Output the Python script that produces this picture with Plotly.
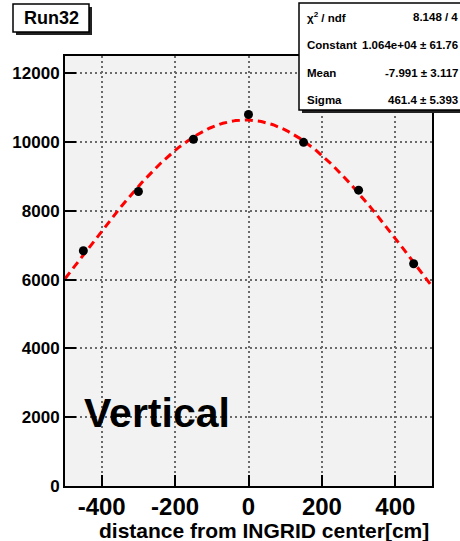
import numpy as np
import plotly.graph_objects as go

# ---- data ----
x_pos = [-450, -300, -150, 0, 150, 300, 450]
counts = [6840, 8560, 10080, 10800, 9990, 8600, 6460]

# fit parameters (from stats box)
fit_const = 1.064e4
fit_mean = -7.991
fit_sigma = 461.4

x_ticks = [-400, -200, 0, 200, 400]
x_ticklabels = ["-400", "-200", "0", "200", "400"]
y_ticks = [0, 2000, 4000, 6000, 8000, 10000, 12000]
y_ticklabels = ["0", "2000", "4000", "6000", "8000", "10000", "12000"]

stat_names = ["χ<sup>2</sup> / ndf", "Constant", "Mean", "Sigma"]
stat_values = ["8.148 / 4", "1.064e+04 ± 61.76", "-7.991 ± 3.117", "461.4 ± 5.393"]

# ---- layout geometry ----
W, H = 460, 541
L, R, T, B = 65, 28, 56, 55
PW, PH = W - L - R, H - T - B

def px(x):
    return (x - L) / PW

def py(y):
    return (H - B - y) / PH

fx = np.linspace(-500, 500, 201)
fy = fit_const * np.exp(-0.5 * ((fx - fit_mean) / fit_sigma) ** 2)

FONT = "Liberation Sans"

fig = go.Figure()
fig.add_trace(go.Scatter(x=fx, y=fy, mode="lines",
                         line=dict(color="#ff0000", width=3, dash="8px,5px"),
                         hoverinfo="skip", showlegend=False))
fig.add_trace(go.Scatter(x=x_pos, y=counts, mode="markers",
                         marker=dict(color="black", size=9),
                         showlegend=False))

axis_common = dict(showline=True, linecolor="black", linewidth=2, mirror=True,
                   showgrid=True, gridcolor="#6a6a6a", gridwidth=1.5, griddash="2px,3px",
                   ticks="inside", ticklen=11, tickwidth=1.5, tickcolor="black",
                   zeroline=False)

fig.update_xaxes(range=[-500, 500], tickvals=x_ticks, ticktext=x_ticklabels,
                 tickfont=dict(family=FONT, size=24, color="black", weight="bold"),
                 ticklabelstandoff=-2,
                 **axis_common)
fig.update_yaxes(range=[0, 12500], tickvals=y_ticks, ticktext=y_ticklabels,
                 tickfont=dict(family=FONT, size=17, color="black", weight="bold"),
                 **axis_common)

shapes = []
# Run32 box with shadow
shapes.append(dict(type="rect", xref="paper", yref="paper", x0=px(16), x1=px(92), y0=py(35), y1=py(7),
                   fillcolor="#222222", line=dict(width=0), layer="above"))
shapes.append(dict(type="rect", xref="paper", yref="paper", x0=px(13), x1=px(89), y0=py(32), y1=py(4),
                   fillcolor="white", line=dict(color="black", width=1.5), layer="above"))
# stats box with shadow
shapes.append(dict(type="rect", xref="paper", yref="paper", x0=px(302), x1=px(475), y0=py(113), y1=py(6),
                   fillcolor="#222222", line=dict(width=0), layer="above"))
shapes.append(dict(type="rect", xref="paper", yref="paper", x0=px(299), x1=px(472), y0=py(110), y1=py(3),
                   fillcolor="white", line=dict(color="black", width=1.5), layer="above"))

annotations = []
annotations.append(dict(text="Run32", xref="paper", yref="paper", x=px(51), y=py(18),
                        xanchor="center", yanchor="middle", showarrow=False,
                        font=dict(family=FONT, size=18, color="black", weight="bold")))
row_y = [17, 45, 73, 100]
for name, val, ry in zip(stat_names, stat_values, row_y):
    annotations.append(dict(text=name, xref="paper", yref="paper", x=px(305), y=py(ry),
                            xanchor="left", yanchor="middle", showarrow=False,
                            font=dict(family=FONT, size=11.5, color="black", weight="bold")))
    annotations.append(dict(text=val, xref="paper", yref="paper", x=px(460), y=py(ry),
                            xanchor="right", yanchor="middle", showarrow=False,
                            font=dict(family=FONT, size=11.5, color="black", weight="bold")))
annotations.append(dict(text="Vertical", xref="paper", yref="paper", x=px(82), y=py(413),
                        xanchor="left", yanchor="middle", showarrow=False,
                        font=dict(family=FONT, size=41, color="black", weight="bold")))
annotations.append(dict(text="distance from INGRID center[cm]", xref="paper", yref="paper",
                        x=px(431), y=py(530), xanchor="right", yanchor="middle", showarrow=False,
                        font=dict(family=FONT, size=21, color="black", weight="bold")))

fig.update_layout(width=W, height=H, margin=dict(l=L, r=R, t=T, b=B),
                  paper_bgcolor="white", plot_bgcolor="#f2f2f2",
                  shapes=shapes, annotations=annotations, showlegend=False)

fig.write_html("out.html")
